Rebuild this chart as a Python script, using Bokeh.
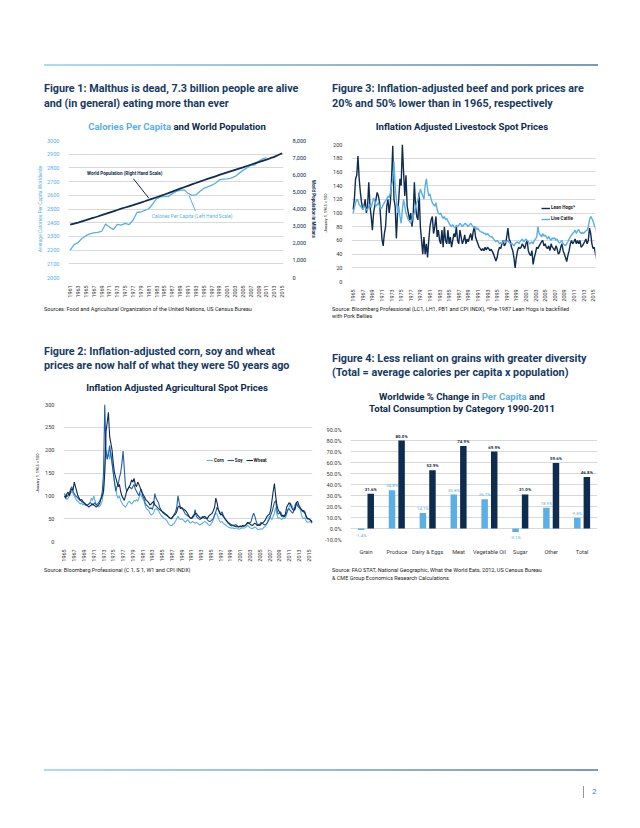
import math
from bokeh.plotting import figure
from bokeh.models import (Range1d, LinearAxis, FixedTicker, NumeralTickFormatter, PrintfTickFormatter,
                          Legend, LegendItem, Label, Arrow, Div, Spacer, FactorRange, LabelSet,
                          ColumnDataSource)
from bokeh.layouts import column, row
from bokeh.transform import dodge
from bokeh.core.properties import value
from bokeh.embed import file_html
from bokeh.resources import INLINE

# ---------------- data ----------------
cal_years = list(range(1961, 2012))
calories = [2200, 2240, 2255, 2285, 2305, 2318, 2326, 2330, 2336, 2390,
            2368, 2350, 2388, 2382, 2395, 2386, 2418, 2475, 2478, 2490,
            2502, 2535, 2575, 2588, 2590, 2592, 2612, 2628, 2636, 2640,
            2615, 2600, 2603, 2628, 2650, 2662, 2672, 2688, 2712, 2718,
            2720, 2726, 2738, 2760, 2782, 2800, 2820, 2820, 2848, 2866, 2875]
pop_years = list(range(1961, 2016))
population = [3083, 3140, 3209, 3281, 3350, 3420, 3490, 3562, 3637, 3713,
              3790, 3867, 3942, 4016, 4088, 4159, 4230, 4302, 4377, 4452,
              4528, 4608, 4687, 4765, 4846, 4928, 5013, 5099, 5185, 5271,
              5355, 5438, 5518, 5600, 5679, 5757, 5835, 5911, 5987, 6063,
              6138, 6213, 6287, 6361, 6435, 6510, 6585, 6660, 6735, 6810,
              6884, 6965, 7045, 7150, 7256]

quarter_start = 1965
hogs = [105, 120, 150, 155, 183, 150, 130, 115, 105, 110, 120, 100, 110, 145, 110, 95,
        75, 100, 110, 120, 130, 125, 115, 90, 62, 52, 70, 80, 110, 120, 100, 115,
        150, 198, 120, 110, 63, 100, 120, 150, 140, 200, 160, 125, 155, 110, 100, 90,
        100, 80, 95, 145, 110, 95, 90, 130, 80, 60, 40, 65, 40, 55, 35, 60,
        80, 90, 95, 70, 80, 95, 65, 75, 60, 55, 75, 50, 80, 60, 55, 75,
        55, 65, 50, 60, 70, 65, 80, 60, 55, 75, 65, 55, 60, 68, 55, 62,
        58, 65, 70, 60, 72, 80, 65, 60, 55, 50, 48, 45, 48, 45, 50, 46,
        50, 48, 45, 47, 44, 40, 35, 30, 35, 45, 50, 48, 55, 60, 52, 55,
        65, 78, 62, 58, 50, 45, 35, 20, 35, 45, 50, 48, 50, 55, 52, 48,
        55, 60, 45, 40, 38, 45, 25, 35, 42, 50, 48, 52, 55, 58, 60, 52,
        55, 50, 48, 52, 45, 55, 50, 48, 45, 52, 48, 40, 42, 50, 55, 45,
        40, 35, 29, 38, 45, 55, 60, 55, 58, 62, 55, 60, 55, 60, 50, 52,
        55, 58, 62, 55, 60, 78, 70, 55, 48, 50, 40, 32]
cattle = [100, 108, 115, 120, 118, 112, 110, 108, 105, 110, 108, 104, 105, 110, 112, 108,
          115, 122, 118, 110, 112, 115, 110, 106, 108, 112, 115, 118, 120, 125, 122, 130,
          140, 148, 175, 140, 120, 100, 110, 95, 85, 105, 120, 110, 100, 95, 90, 88,
          85, 90, 95, 100, 110, 115, 120, 125, 135, 130, 125, 120, 140, 150, 135, 125,
          128, 120, 115, 112, 110, 115, 105, 100, 98, 100, 95, 92, 95, 90, 92, 88,
          85, 82, 80, 83, 80, 78, 82, 80, 82, 85, 83, 80, 82, 85, 84, 82,
          80, 83, 85, 82, 80, 78, 80, 76, 78, 75, 73, 72, 72, 70, 70, 68,
          70, 68, 66, 65, 65, 62, 60, 58, 60, 58, 55, 57, 55, 58, 60, 57,
          58, 60, 57, 55, 56, 54, 52, 55, 57, 58, 55, 58, 60, 62, 58, 60,
          62, 60, 58, 55, 56, 58, 55, 60, 62, 65, 80, 70, 68, 65, 70, 66,
          68, 65, 62, 66, 62, 60, 64, 62, 64, 60, 62, 58, 56, 58, 60, 55,
          54, 52, 55, 58, 62, 65, 68, 70, 72, 75, 70, 74, 76, 72, 70, 72,
          70, 72, 74, 75, 80, 90, 95, 92, 88, 82, 78, 70]
corn = [100, 95, 92, 95, 100, 105, 110, 105, 100, 95, 90, 88, 85, 82, 85, 80,
        82, 80, 78, 80, 82, 85, 95, 90, 100, 90, 80, 78, 75, 78, 82, 90,
        110, 160, 200, 180, 200, 180, 195, 175, 150, 130, 115, 100, 95, 100, 90, 85,
        80, 78, 75, 80, 85, 88, 85, 82, 85, 90, 88, 92, 88, 95, 105, 100,
        95, 90, 80, 72, 70, 68, 62, 58, 60, 62, 70, 72, 70, 68, 62, 58,
        55, 52, 50, 48, 45, 40, 36, 35, 35, 38, 40, 45, 50, 55, 50, 48,
        50, 48, 45, 42, 45, 48, 44, 40, 42, 44, 42, 40, 42, 40, 38, 36,
        38, 40, 42, 44, 42, 40, 36, 35, 38, 42, 50, 58, 62, 60, 52, 45,
        42, 44, 40, 38, 36, 34, 32, 30, 30, 29, 30, 28, 29, 30, 28, 27,
        28, 29, 30, 29, 30, 32, 35, 33, 30, 29, 28, 30, 32, 30, 27, 26,
        27, 28, 27, 30, 32, 35, 40, 50, 55, 52, 48, 55, 62, 75, 60, 50,
        52, 50, 48, 52, 50, 52, 60, 68, 75, 85, 80, 75, 72, 70, 82, 80,
        75, 72, 60, 52, 50, 52, 45, 42, 42, 44, 42, 40]
soy = [105, 100, 98, 102, 105, 115, 120, 110, 105, 100, 98, 95, 92, 90, 88, 86,
       84, 82, 80, 80, 82, 85, 83, 80, 82, 85, 80, 82, 85, 90, 95, 110,
       150, 300, 200, 180, 190, 210, 190, 170, 150, 130, 110, 120, 125, 140, 150, 170,
       198, 160, 120, 110, 115, 120, 118, 115, 120, 125, 115, 110, 105, 100, 110, 115,
       100, 95, 85, 80, 78, 75, 72, 74, 70, 80, 105, 95, 90, 85, 75, 70,
       65, 62, 60, 58, 56, 54, 52, 50, 50, 55, 60, 65, 75, 100, 85, 75,
       72, 70, 65, 60, 58, 56, 55, 52, 50, 52, 55, 70, 55, 52, 50, 48,
       50, 55, 52, 50, 52, 48, 45, 44, 45, 48, 50, 58, 65, 75, 70, 62,
       60, 65, 58, 52, 48, 44, 40, 38, 35, 34, 36, 35, 37, 36, 33, 32,
       33, 32, 34, 33, 35, 36, 40, 42, 40, 45, 55, 62, 55, 45, 38, 36,
       38, 42, 40, 38, 36, 38, 40, 45, 50, 58, 65, 75, 85, 90, 70, 60,
       62, 65, 58, 55, 54, 56, 62, 70, 72, 68, 65, 62, 68, 80, 85, 78,
       75, 72, 70, 65, 68, 65, 55, 50, 50, 48, 46, 42]
wheat = [100, 95, 105, 108, 100, 110, 115, 112, 130, 120, 110, 100, 95, 90, 92, 88,
         85, 82, 80, 78, 75, 78, 80, 82, 80, 78, 75, 78, 80, 85, 95, 100,
         110, 150, 240, 260, 283, 230, 215, 200, 170, 150, 140, 130, 120, 125, 110, 100,
         95, 90, 100, 110, 115, 120, 125, 135, 130, 138, 125, 120, 130, 125, 118, 110,
         105, 100, 95, 90, 88, 85, 80, 82, 85, 88, 80, 78, 75, 72, 70, 68,
         66, 64, 62, 60, 58, 55, 52, 50, 52, 55, 58, 60, 65, 75, 78, 72,
         75, 72, 70, 68, 65, 60, 55, 52, 50, 55, 58, 60, 62, 58, 55, 52,
         50, 52, 54, 55, 52, 50, 55, 58, 60, 62, 68, 75, 95, 85, 70, 65,
         58, 60, 55, 52, 48, 45, 42, 40, 38, 36, 35, 34, 33, 34, 32, 33,
         34, 33, 35, 34, 35, 38, 42, 40, 38, 36, 35, 38, 40, 38, 35, 36,
         35, 38, 40, 42, 45, 50, 55, 58, 60, 70, 90, 110, 127, 100, 80, 70,
         65, 60, 55, 58, 55, 60, 75, 80, 85, 82, 75, 70, 68, 72, 85, 88,
         80, 75, 70, 68, 65, 62, 55, 50, 50, 48, 45, 42]

categories = ["Grain", "Produce", "Dairy & Eggs", "Meat", "Vegetable Oil", "Sugar", "Other", "Total"]
per_capita = [-1.4, 34.8, 14.1, 30.8, 26.7, -3.1, 18.9, 9.8]
total = [31.6, 80.0, 52.9, 74.9, 69.9, 31.0, 59.6, 46.8]

# ---------------- style ----------------
NAVY = "#0e2b50"
HEAD = "#173a64"
LIGHT = "#5aafe6"
MID = "#1f5fa8"
GRID = "#d9d9d9"
TXT = "#3a3a3a"
FONT = "Roboto"


def base_fig(w, h, l, r, t, b, **kw):
    p = figure(width=w, height=h, min_border_left=l, min_border_right=r,
               min_border_top=t, min_border_bottom=b,
               toolbar_location=None, output_backend="svg", **kw)
    p.outline_line_color = None
    p.xgrid.grid_line_color = None
    p.ygrid.grid_line_color = GRID
    p.ygrid.grid_line_width = 1
    return p


def style_axis(ax, size="5.6px", color=TXT):
    ax.axis_line_color = None
    ax.major_tick_line_color = None
    ax.minor_tick_line_color = None
    ax.major_label_text_font = FONT
    ax.major_label_text_font_size = size
    ax.major_label_text_color = color
    ax.major_label_standoff = 3
    ax.axis_label_text_font = FONT
    ax.axis_label_text_font_style = "normal"
    ax.axis_label_standoff = 2


def text_div(html, width, height, left=0, size=5, lh=8, weight="normal", color="#333",
             align="left", inner_w=None):
    wstyle = f"width:{inner_w}px;" if inner_w else ""
    h = (f'<div style="margin-left:{left}px;{wstyle}font-family:{FONT};font-weight:{weight};'
         f'font-size:{size}px;line-height:{lh}px;color:{color};white-space:nowrap;text-align:{align}">'
         f'{html}</div>')
    return Div(text=h, width=width, height=height, margin=0,
               styles={"font-size": "1px", "line-height": "1px"})


def sp(w, h):
    return Spacer(width=w, height=h, margin=0)


def rule(width=554, left=36):
    line = Div(text="", width=width, height=2, margin=0,
               styles={"background": "linear-gradient(to right, #a9ddf1, #7b9bb5)"})
    return row(sp(left, 2), line, margin=0)


HEAD_SIZE = 10.8
TITLE_SIZE = 9.6
SRC = "#222"
SRC_SIZE = 5.5

# ---------------- Figure 1 ----------------
p1 = base_fig(312, 166, 60, 37, 6, 23,
              x_range=Range1d(1960.57, 2015.33), y_range=Range1d(2000, 3000))
p1.extra_y_ranges = {"pop": Range1d(0, 8000)}
p1.line(cal_years, calories, color=LIGHT, line_width=1.3)
p1.line(pop_years, population, y_range_name="pop", color=NAVY, line_width=1.8)
rax = LinearAxis(y_range_name="pop", ticker=FixedTicker(ticks=list(range(0, 8001, 1000))),
                 formatter=NumeralTickFormatter(format="0,0"))
p1.add_layout(rax, "right")
p1.yaxis[0].ticker = FixedTicker(ticks=list(range(2000, 3001, 100)))
p1.xaxis.ticker = FixedTicker(ticks=list(range(1961, 2016, 2)))
p1.xaxis.major_label_orientation = math.pi / 2
for ax in p1.axis:
    style_axis(ax)
p1.yaxis[0].major_label_text_color = LIGHT
p1.yaxis[0].axis_label = "Average Calories Per Capita Worldwide"
p1.yaxis[0].axis_label_text_color = LIGHT
p1.yaxis[0].axis_label_text_font_size = "5px"
p1.yaxis[0].axis_label_standoff = 1
rax.major_label_text_color = NAVY
rax.axis_label = "World Population in Millions"
rax.axis_label_text_color = NAVY
rax.axis_label_text_font_size = "4.6px"
rax.axis_label_text_font_style = "bold"
p1.xaxis.major_label_text_font_size = "5.4px"
p1.xaxis.major_label_standoff = 2
p1.add_layout(Label(x=1965.3, y=2757, text="World Population (Right Hand Scale)",
                    text_font=FONT, text_font_size="4.6px", text_font_style="bold",
                    text_color=NAVY, text_baseline="middle"))
p1.add_layout(Label(x=1981.8, y=2446, text="Calories Per Capita (Left Hand Scale)",
                    text_font=FONT, text_font_size="4.9px", text_color=LIGHT,
                    text_baseline="middle"))
p1.add_layout(Arrow(x_start=1977.1, y_start=2721, x_end=1981.0, y_end=2580, end=None,
                    line_color=NAVY, line_width=1))
p1.add_layout(Arrow(x_start=1992.9, y_start=2485, x_end=1991.3, y_end=2598, end=None,
                    line_color=LIGHT, line_width=1))

q1 = column(
    sp(312, 15),
    text_div("Figure 1: Malthus is dead, 7.3 billion people are alive<br>and (in general) eating more than ever",
             312, 30, left=36, size=HEAD_SIZE, lh=15, weight="bold", color=HEAD),
    sp(312, 9),
    text_div(f'<span style="color:{LIGHT}">Calories Per Capita</span> and World Population',
             312, 14, left=49, size=TITLE_SIZE, lh=14, weight="bold", color=NAVY,
             align="center", inner_w=240),
    p1,
    sp(312, 3),
    text_div("Sources: Food and Agricultural Organization of the United Nations, US Census Bureau",
             312, 12, left=36, size=SRC_SIZE, lh=12, color=SRC),
    margin=0)

# ---------------- Figure 3 ----------------
qx = [quarter_start + i / 4 for i in range(len(hogs))]
p3 = base_fig(312, 170, 28, 37, 10, 23,
              x_range=Range1d(1964.65, 2015.5), y_range=Range1d(0, 200))
r_h = p3.line(qx, hogs, color=NAVY, line_width=1.4)
r_c = p3.line(qx, cattle, color=LIGHT, line_width=1.4)
p3.yaxis.ticker = FixedTicker(ticks=list(range(0, 201, 20)))
p3.xaxis.ticker = FixedTicker(ticks=list(range(1965, 2016, 2)))
p3.xaxis.major_label_orientation = math.pi / 2
for ax in p3.axis:
    style_axis(ax, size="5.6px")
p3.xaxis.major_label_text_font_size = "5.4px"
p3.xaxis.major_label_standoff = 2
p3.yaxis.axis_label = "January 1, 1965 = 100"
p3.yaxis.axis_label_text_font_size = "4px"
p3.yaxis.axis_label_text_color = "#222"
leg3 = Legend(items=[LegendItem(label="Lean Hogs*", renderers=[r_h]),
                     LegendItem(label="Live Cattle", renderers=[r_c])],
              location=(190, 57), orientation="vertical",
              label_text_font=FONT, label_text_font_size="4.6px", label_text_font_style="bold",
              label_text_color="#222", glyph_width=9, glyph_height=6, label_height=11,
              label_width=5, spacing=0, padding=0, margin=0, label_standoff=1,
              background_fill_alpha=0, border_line_color=None)
p3.add_layout(leg3)

q3 = column(
    sp(312, 15),
    text_div("Figure 3: Inflation-adjusted beef and pork prices are<br>20% and 50% lower than in 1965, respectively",
             312, 30, left=12, size=HEAD_SIZE, lh=15, weight="bold", color=HEAD),
    sp(312, 9),
    text_div("Inflation Adjusted Livestock Spot Prices",
             312, 14, left=22, size=TITLE_SIZE, lh=14, weight="bold", color=NAVY,
             align="center", inner_w=240),
    p3,
    sp(312, 2),
    text_div("Source: Bloomberg Professional (LC1, LH1, PB1 and CPI INDX), *Pre-1987 Lean Hogs is backfilled<br>with Pork Bellies",
             312, 14, left=12, size=SRC_SIZE, lh=7, color=SRC),
    margin=0)

# ---------------- Figure 2 ----------------
p2 = base_fig(312, 169, 55, 8, 9, 21,
              x_range=Range1d(1964.8, 2015.8), y_range=Range1d(0, 300))
r_corn = p2.line(qx, corn, color=LIGHT, line_width=1.1)
r_soy = p2.line(qx, soy, color=MID, line_width=1.1)
r_wheat = p2.line(qx, wheat, color=NAVY, line_width=1.1)
p2.yaxis.ticker = FixedTicker(ticks=list(range(0, 301, 50)))
p2.xaxis.ticker = FixedTicker(ticks=list(range(1965, 2016, 2)))
p2.xaxis.major_label_orientation = math.pi / 2
for ax in p2.axis:
    style_axis(ax, size="5.6px")
p2.xaxis.major_label_text_font_size = "5.4px"
p2.xaxis.major_label_standoff = 2
p2.yaxis.axis_label = "January 1, 1965 = 100"
p2.yaxis.axis_label_text_font_size = "4px"
p2.yaxis.axis_label_text_color = "#222"
leg2 = Legend(items=[LegendItem(label="Corn", renderers=[r_corn]),
                     LegendItem(label="Soy", renderers=[r_soy]),
                     LegendItem(label="Wheat", renderers=[r_wheat])],
              location=(143, 77), orientation="horizontal",
              label_text_font=FONT, label_text_font_size="4.6px", label_text_font_style="bold",
              label_text_color="#222", glyph_width=7, glyph_height=6, label_height=8,
              label_width=5, spacing=3, padding=0, margin=0, label_standoff=1,
              background_fill_alpha=0, border_line_color=None)
p2.add_layout(leg2)

q2 = column(
    sp(312, 25),
    text_div("Figure 2: Inflation-adjusted corn, soy and wheat<br>prices are now half of what they were 50 years ago",
             312, 28, left=36, size=HEAD_SIZE, lh=14, weight="bold", color=HEAD),
    sp(312, 8),
    text_div("Inflation Adjusted Agricultural Spot Prices",
             312, 14, left=49, size=TITLE_SIZE, lh=14, weight="bold", color=NAVY,
             align="center", inner_w=240),
    p2,
    sp(312, 1),
    text_div("Source: Bloomberg Professional (C 1, S 1, W1 and CPI INDX)",
             312, 10, left=36, size=SRC_SIZE, lh=10, color=SRC),
    margin=0)

# ---------------- Figure 4 ----------------
p4 = base_fig(312, 142, 30, 35, 14, 12,
              x_range=FactorRange(factors=categories, range_padding=0),
              y_range=Range1d(-10, 90))
src4 = ColumnDataSource(dict(cat=categories, pc=per_capita, tot=total))
p4.vbar(x=dodge("cat", -0.155, range=p4.x_range), top="pc", width=0.21, source=src4,
        fill_color=LIGHT, line_color=None)
p4.vbar(x=dodge("cat", 0.155, range=p4.x_range), top="tot", width=0.21, source=src4,
        fill_color=NAVY, line_color=None)
p4.yaxis.ticker = FixedTicker(ticks=list(range(-10, 91, 10)))
p4.yaxis.formatter = PrintfTickFormatter(format="%.1f%%")
for ax in p4.axis:
    style_axis(ax, size="5.6px")
p4.xaxis.major_label_standoff = 3

pos_pc = [(c, v) for c, v in zip(categories, per_capita) if v >= 0]
neg_pc = [(c, v) for c, v in zip(categories, per_capita) if v < 0]
src_pos = ColumnDataSource(dict(cat=[c for c, _ in pos_pc], y=[v for _, v in pos_pc],
                                t=[f"{v:.1f}%" for _, v in pos_pc]))
src_neg = ColumnDataSource(dict(cat=[c for c, _ in neg_pc], y=[v for _, v in neg_pc],
                                t=[f"{v:.1f}%" for _, v in neg_pc]))
src_tot = ColumnDataSource(dict(cat=categories, y=total, t=[f"{v:.1f}%" for v in total]))
p4.add_layout(LabelSet(x=dodge("cat", -0.155, range=p4.x_range), y="y", text="t", source=src_pos,
                       text_align="center", text_baseline="bottom", y_offset=2,
                       text_font=value(FONT), text_font_size="4.4px", text_color=LIGHT))
p4.add_layout(LabelSet(x=dodge("cat", -0.155, range=p4.x_range), y="y", text="t", source=src_neg,
                       text_align="center", text_baseline="top", y_offset=-3,
                       text_font=value(FONT), text_font_size="4.4px", text_color=LIGHT))
p4.add_layout(LabelSet(x=dodge("cat", 0.155, range=p4.x_range), y="y", text="t", source=src_tot,
                       text_align="center", text_baseline="bottom", y_offset=2,
                       text_font=value(FONT), text_font_size="4.4px", text_font_style=value("bold"),
                       text_color=NAVY))

q4 = column(
    sp(312, 32),
    text_div("Figure 4: Less reliant on grains with greater diversity<br>(Total = average calories per capita x population)",
             312, 28, left=12, size=HEAD_SIZE, lh=14, weight="bold", color=HEAD),
    sp(312, 11),
    text_div(f'Worldwide % Change in <span style="color:{LIGHT}">Per Capita</span> and<br>'
             'Total Consumption by Category 1990-2011',
             312, 24, left=22, size=TITLE_SIZE, lh=12, weight="bold", color=NAVY,
             align="center", inner_w=240),
    p4,
    sp(312, 9),
    text_div("Source: FAO STAT, National Geographic, What the World Eats, 2012, US Census Bureau<br>"
             "&amp; CME Group Economics Research Calculations",
             312, 16, left=12, size=SRC_SIZE, lh=8, color=SRC),
    margin=0)

# ---------------- page ----------------
page_num = Div(text=f'<div style="border-left:1px solid #9a9a9a;height:12px;padding-left:8px;'
                    f'font-family:{FONT};font-size:8px;line-height:12px;color:#3d85c6">2</div>',
               width=30, height=12, margin=0, styles={"font-size": "1px", "line-height": "1px"})

page = column(
    sp(624, 56),
    rule(),
    row(q1, q3, margin=0),
    row(q2, q4, margin=0),
    sp(624, 187),
    rule(),
    sp(624, 15),
    row(sp(575, 12), page_num, margin=0),
    margin=0)

root = column(sp(632, 8), row(sp(8, 798), page, margin=0), margin=0)

open("out.html", "w").write(file_html(root, INLINE))
